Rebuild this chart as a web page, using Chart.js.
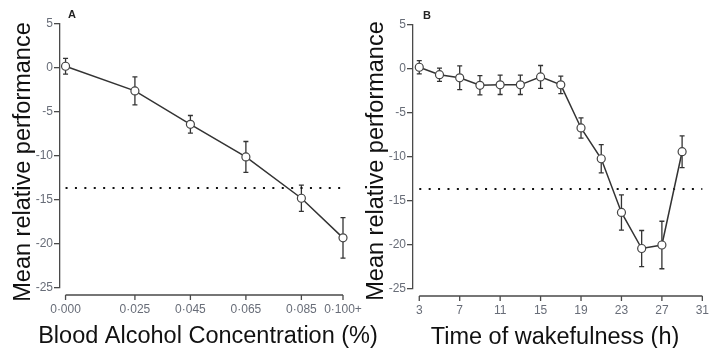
<!DOCTYPE html>
<html>
<head>
<meta charset="utf-8">
<script src="https://cdn.jsdelivr.net/npm/chart.js@4/dist/chart.umd.min.js"></script>
<style>
  html, body { margin: 0; padding: 0; background: #fff; }
  #wrap { position: relative; width: 709px; height: 348px; overflow: hidden; }
  .box { position: absolute; top: 0; height: 348px; }
  #boxA { left: 0; width: 385px; }
  #boxB { left: 355px; width: 354px; }
</style>
</head>
<body>
<div id="wrap">
  <div class="box" id="boxA"><canvas id="chartA" width="385" height="348"></canvas></div>
  <div class="box" id="boxB"><canvas id="chartB" width="354" height="348"></canvas></div>
</div>
<script>
// Panel A : blood alcohol concentration
const bacValues = [0, 0.025, 0.045, 0.065, 0.085, 0.1];
const bacPerformance = [0.2, -2.6, -6.4, -10.1, -14.8, -19.3];
const bacError = [0.9, 1.6, 1.0, 1.75, 1.5, 2.3];
const bacTickLabels = ["0·000", "0·025", "0·045", "0·065", "0·085", "0·100+"];
const bacThresholdX = [0, 0.1];

// Panel B : time of wakefulness
const wakeHours = [3, 5, 7, 9, 11, 13, 15, 17, 19, 21, 23, 25, 27, 29];
const wakePerformance = [0.2, -0.65, -1.0, -1.85, -1.8, -1.8, -0.9, -1.8, -6.7, -10.2, -16.3, -20.4, -20.0, -9.4];
const wakeError = [0.75, 0.75, 1.35, 1.1, 1.1, 1.1, 1.3, 1.0, 1.15, 1.6, 2.0, 2.05, 2.7, 1.8];
const wakeTicks = [3, 7, 11, 15, 19, 23, 27, 31];
const wakeThresholdX = [3, 31];

// shared
const yTicks = [5, 0, -5, -10, -15, -20, -25];
const threshold = -13.65;
const yTitle = "Mean relative performance";

const FONT = '"Liberation Sans", Arial, sans-serif';
const tickColor = "#686d78";
const axisColor = "#4a4a4a";

// error bars, detached x axis, axis titles and panel letter
function makePanelPlugin(cfg) {
  return {
    id: "panel" + cfg.letter,
    beforeDatasetsDraw(chart) {
      const ctx = chart.ctx;
      const xs = chart.scales.x;
      const ys = chart.scales.y;
      const pts = chart.data.datasets[0].data;
      ctx.save();
      ctx.strokeStyle = "#333";
      ctx.lineWidth = 1.3;
      pts.forEach((p, i) => {
        const px = xs.getPixelForValue(p.x);
        const top = ys.getPixelForValue(p.y + cfg.errors[i]);
        const bot = ys.getPixelForValue(p.y - cfg.errors[i]);
        ctx.beginPath();
        ctx.moveTo(px, top);
        ctx.lineTo(px, bot);
        ctx.moveTo(px - 2.5, top);
        ctx.lineTo(px + 2.5, top);
        ctx.moveTo(px - 2.5, bot);
        ctx.lineTo(px + 2.5, bot);
        ctx.stroke();
      });
      ctx.restore();
    },
    afterDraw(chart) {
      const ctx = chart.ctx;
      const xs = chart.scales.x;
      const area = chart.chartArea;
      const ticks = xs.ticks.map((t) => xs.getPixelForValue(t.value));
      const yLine = area.bottom + 7;
      ctx.save();
      ctx.strokeStyle = axisColor;
      ctx.lineWidth = 1.3;
      ctx.beginPath();
      ctx.moveTo(ticks[0], yLine);
      ctx.lineTo(ticks[ticks.length - 1], yLine);
      ticks.forEach((px) => {
        ctx.moveTo(px, yLine);
        ctx.lineTo(px, yLine + 5);
      });
      ctx.stroke();

      // panel letter
      ctx.fillStyle = "#222";
      ctx.font = 'bold 11px "Liberation Sans Narrow", ' + FONT;
      ctx.textAlign = "center";
      ctx.textBaseline = "middle";
      ctx.fillText(cfg.letter, area.left + cfg.letterDx, area.top - 9);

      // axis titles
      ctx.fillStyle = "#111";
      ctx.font = "23.5px " + FONT;
      ctx.textBaseline = "alphabetic";
      ctx.fillText(cfg.xTitle, cfg.xTitleX, cfg.xTitleBase);
      ctx.translate(cfg.yTitleBase, cfg.yTitleY);
      ctx.rotate(-Math.PI / 2);
      ctx.fillText(yTitle, 0, 0);
      ctx.restore();
    },
  };
}

function buildPanel(canvasId, cfg) {
  const points = cfg.xs.map((v, i) => ({ x: v, y: cfg.ys[i] }));
  const dotted = cfg.thrX.map((v) => ({ x: v, y: threshold }));
  return new Chart(document.getElementById(canvasId), {
    type: "line",
    data: {
      datasets: [
        {
          data: points,
          borderColor: "#333",
          borderWidth: 1.5,
          pointRadius: 4,
          pointBackgroundColor: "#fff",
          pointBorderColor: "#444",
          pointBorderWidth: 1.2,
          tension: 0,
          clip: false,
        },
        {
          data: dotted,
          borderColor: "#111",
          borderWidth: 2,
          borderDash: [2, 7.4],
          pointRadius: 0,
          clip: false,
        },
      ],
    },
    options: {
      responsive: false,
      animation: false,
      layout: { padding: cfg.padding },
      plugins: {
        legend: { display: false },
        tooltip: { enabled: false },
      },
      scales: {
        x: {
          type: "linear",
          min: cfg.xMin,
          max: cfg.xMax,
          grid: { display: false, drawTicks: true, tickLength: 14 },
          border: { display: false },
          afterBuildTicks: (s) => {
            s.ticks = cfg.xTicks.map((v) => ({ value: v }));
          },
          afterFit: (s) => {
            s.height = cfg.xHeight;
          },
          ticks: {
            autoSkip: false,
            maxRotation: 0,
            padding: 0,
            color: tickColor,
            font: { family: FONT, size: 12 },
            callback: (v, i) => cfg.xLabels[i],
          },
        },
        y: {
          min: -25,
          max: 5,
          grid: {
            display: true,
            drawOnChartArea: false,
            drawTicks: true,
            tickLength: 6,
            color: axisColor,
            lineWidth: 1.3,
          },
          border: { display: true, color: axisColor, width: 1.3 },
          afterBuildTicks: (s) => {
            s.ticks = yTicks.map((v) => ({ value: v }));
          },
          afterFit: (s) => {
            s.width = cfg.yWidth;
          },
          ticks: {
            padding: 1,
            color: tickColor,
            font: { family: FONT, size: 12 },
            callback: (v) => String(v),
          },
        },
      },
    },
    plugins: [makePanelPlugin(cfg)],
  });
}

buildPanel("chartA", {
  xs: bacValues,
  ys: bacPerformance,
  errors: bacError,
  thrX: bacThresholdX,
  xTicks: bacValues,
  xLabels: bacTickLabels,
  xMin: -0.002,
  xMax: 0.1,
  xTitle: "Blood Alcohol Concentration (%)",
  xTitleX: 208,
  xTitleBase: 343,
  yTitleBase: 30,
  yTitleY: 162,
  padding: { left: 0, right: 42, top: 24, bottom: 0 },
  yWidth: 60,
  xHeight: 60,
  letter: "A",
  letterDx: 12,
});

buildPanel("chartB", {
  xs: wakeHours,
  ys: wakePerformance,
  errors: wakeError,
  thrX: wakeThresholdX,
  xTicks: wakeTicks,
  xLabels: wakeTicks.map(String),
  xMin: 2.38,
  xMax: 31,
  xTitle: "Time of wakefulness (h)",
  xTitleX: 200,
  xTitleBase: 344,
  yTitleBase: 28,
  yTitleY: 161,
  padding: { left: 0, right: 6.5, top: 25, bottom: 0 },
  yWidth: 58,
  xHeight: 59,
  letter: "B",
  letterDx: 14,
});
</script>
</body>
</html>
